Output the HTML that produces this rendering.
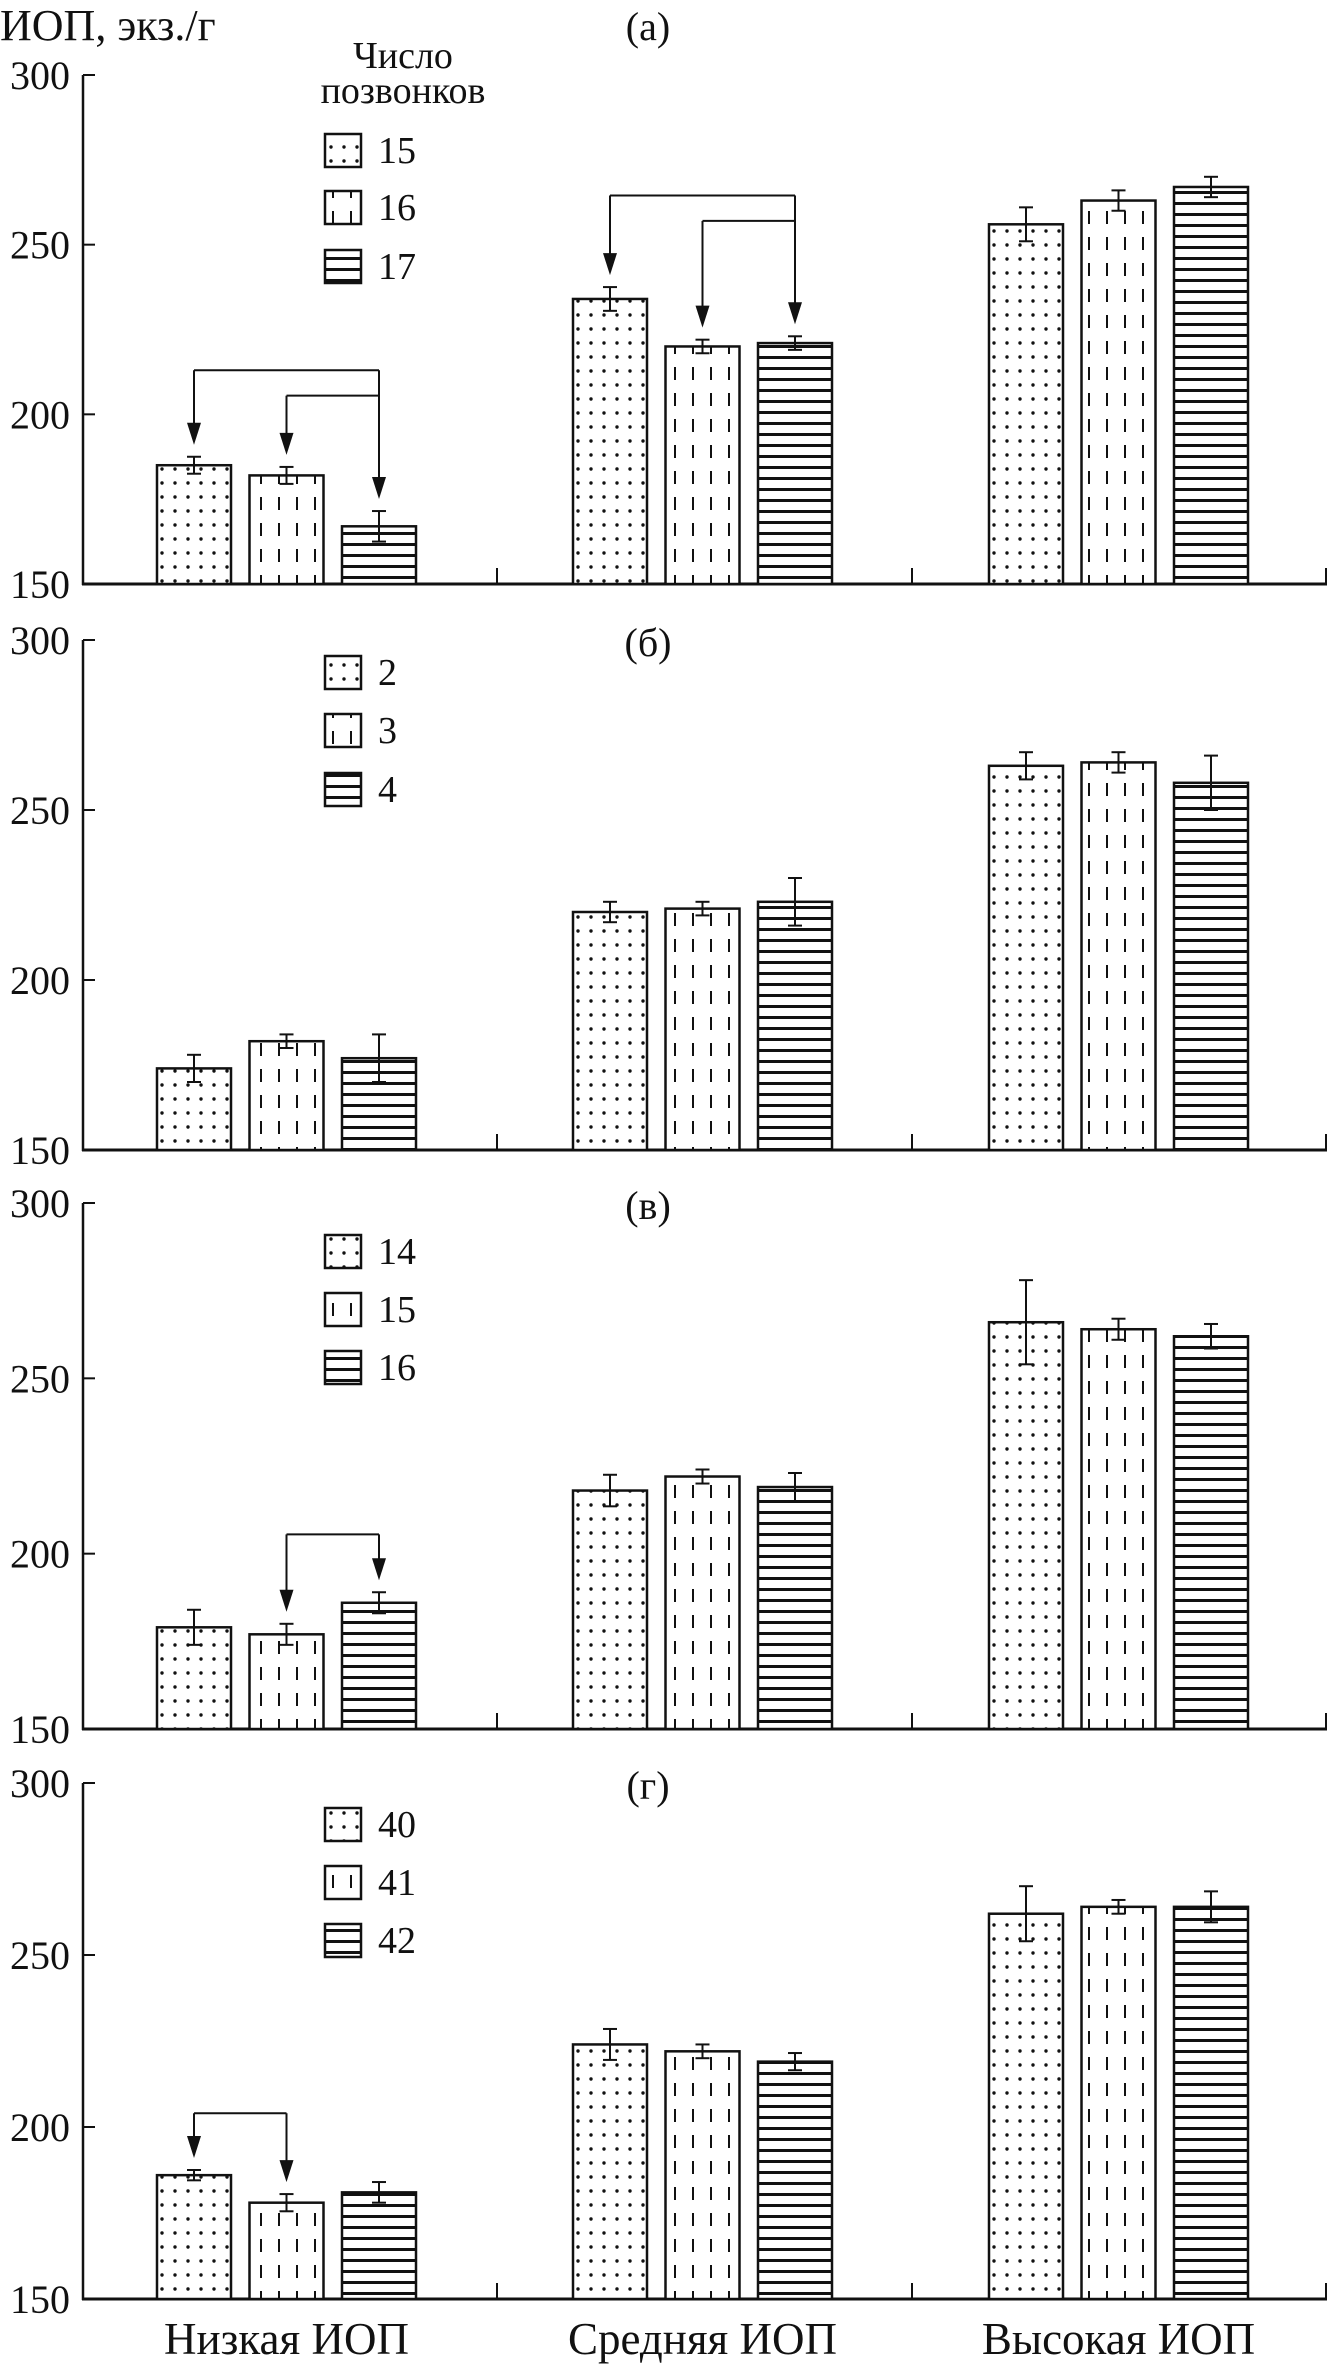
<!DOCTYPE html>
<html><head><meta charset="utf-8"><style>
body{margin:0;background:#fff}
svg text{font-family:"Liberation Serif","DejaVu Serif",serif;fill:#111}
</style></head><body>
<svg id="c" width="1331" height="2367" viewBox="0 0 1331 2367" xmlns="http://www.w3.org/2000/svg">
<defs>
<pattern id="p0" width="13" height="14" patternUnits="userSpaceOnUse"><rect width="13" height="14" fill="#fff"/><circle cx="6" cy="7" r="1.7" fill="#111"/></pattern>
<pattern id="p1" width="18" height="26" patternUnits="userSpaceOnUse"><rect width="18" height="26" fill="#fff"/><rect x="8" y="3" width="2" height="13" fill="#111"/></pattern>
<pattern id="p2" width="10" height="11" patternUnits="userSpaceOnUse"><rect width="10" height="11" fill="#fff"/><rect x="0" y="4" width="10" height="3" fill="#111"/></pattern>
</defs>
</svg>
<script>
const categories=["Низкая ИОП","Средняя ИОП","Высокая ИОП"];
const panelTitles=["(а)","(б)","(в)","(г)"];
const legendA=["15","16","17"];
const legendB=["2","3","4"];
const legendC=["14","15","16"];
const legendD=["40","41","42"];
const yTicks=[150,200,250,300];
const valuesA=[185,182,167,234,220,221,256,263,267];
const errorsA=[2.5,2.5,4.5,3.5,2,2,5,3,3];
const valuesB=[174,182,177,220,221,223,263,264,258];
const errorsB=[4,2,7,3,2,7,4,3,8];
const valuesC=[179,177,186,218,222,219,266,264,262];
const errorsC=[5,3,3,4.5,2,4,12,3,3.5];
const valuesD=[186,178,181,224,222,219,262,264,264];
const errorsD=[1.5,2.5,3,4.5,2,2.5,8,2,4.5];
const NS="http://www.w3.org/2000/svg";
const svg=document.getElementById('c');
function mk(t,a,p){const e=document.createElementNS(NS,t);for(const k in a)e.setAttribute(k,a[k]);(p||svg).appendChild(e);return e;}
const panels=[
 {top:75,base:584,vals:valuesA,errs:errorsA,leg:legendA,legOff:[75,132,191],
  brackets:[{from:2,to:[0,1],y:[213,205.5]}],extra:[{from:5,to:[3,4],y:[264.5,257]}]},
 {top:640,base:1150,vals:valuesB,errs:errorsB,leg:legendB,legOff:[32,90,149],brackets:[],extra:[]},
 {top:1203,base:1729,vals:valuesC,errs:errorsC,leg:legendC,legOff:[48,106,164],brackets:[{line:[1,2],y:205.5}],extra:[]},
 {top:1783,base:2299,vals:valuesD,errs:errorsD,leg:legendD,legOff:[41,99,157],brackets:[{line:[0,1],y:204}],extra:[]}
];
const BW=74;
function xBar(i){const g=Math.floor(i/3),s=i%3;return 157+g*416+s*92.5;}
function xc(i){return xBar(i)+BW/2;}
function arrow(x,y1,y2,g){
 mk('line',{x1:x,y1:y1,x2:x,y2:y2-18,stroke:'#111','stroke-width':2},g);
 mk('path',{d:`M${x-7},${y2-22} L${x+7},${y2-22} L${x},${y2} Z`,fill:'#111'},g);
}
panels.forEach((P,pi)=>{
 const y=v=>P.base-(v-150)/150*(P.base-P.top);
 const g=mk('g',{});
 
 
 const ax=mk('line',{x1:83,y1:P.top,x2:83,y2:P.base+1,stroke:'#111','stroke-width':2.5},g);
 
 
 const bx=mk('line',{x1:82,y1:P.base,x2:1327,y2:P.base,stroke:'#111','stroke-width':3},g);
 
 
 [497,912,1326].forEach(x=>mk('line',{x1:x,y1:P.base-16,x2:x,y2:P.base,stroke:'#111','stroke-width':2},g));
 yTicks.forEach(t=>{
  mk('line',{x1:83,y1:y(t),x2:95,y2:y(t),stroke:'#111','stroke-width':2},g);
  const tx=mk('text',{x:70,y:y(t)+14,'font-size':40,'text-anchor':'end'},g);tx.textContent=t;
  
  
 });
 const tt=mk('text',{x:648,y:pi==0?40:P.top+16,'font-size':40,'text-anchor':'middle'},g);
 tt.textContent=panelTitles[pi];
 
 
 P.vals.forEach((v,i)=>{
  const r=mk('rect',{x:xBar(i),y:y(v),width:BW,height:P.base-y(v),fill:'url(#p'+(i%3)+')',stroke:'#111','stroke-width':2.5},g);
  
  
  const e=P.errs[i],cx=xc(i);
  mk('line',{x1:cx,y1:y(v+e),x2:cx,y2:y(v-e),stroke:'#111','stroke-width':2},g);
  mk('line',{x1:cx-7,y1:y(v+e),x2:cx+7,y2:y(v+e),stroke:'#111','stroke-width':2},g);
  mk('line',{x1:cx-7,y1:y(v-e),x2:cx+7,y2:y(v-e),stroke:'#111','stroke-width':2},g);
 });
 const tipOf=i=>y(P.vals[i]+P.errs[i])-12;
 [...P.brackets,...P.extra].forEach(b=>{
  if(b.from!==undefined){
   const fx=xc(b.from);
   arrow(fx,y(b.y[0]),tipOf(b.from),g);
   b.to.forEach((t,k)=>{
    const tx=xc(t);
    mk('line',{x1:tx,y1:y(b.y[k]),x2:fx,y2:y(b.y[k]),stroke:'#111','stroke-width':2},g);
    arrow(tx,y(b.y[k]),tipOf(t),g);
   });
  } else {
   const a=xc(b.line[0]),c=xc(b.line[1]);
   mk('line',{x1:a,y1:y(b.y),x2:c,y2:y(b.y),stroke:'#111','stroke-width':2},g);
   arrow(a,y(b.y),tipOf(b.line[0]),g);
   arrow(c,y(b.y),tipOf(b.line[1]),g);
  }
 });
 P.leg.forEach((l,k)=>{
  const cy=P.top+P.legOff[k];
  const lr=mk('rect',{x:325,y:cy-16,width:36,height:33,fill:'url(#p'+k+')',stroke:'#111','stroke-width':2.5},g);
  
  
  const lt=mk('text',{x:378,y:cy+13,'font-size':38},g);lt.textContent=l;
  
  
 });
});
let t=mk('text',{x:0,y:40,'font-size':44});t.textContent="ИОП, экз./г";


t=mk('text',{x:403,y:68,'font-size':38,'text-anchor':'middle'});t.textContent="Число";


t=mk('text',{x:403,y:103,'font-size':38,'text-anchor':'middle'});t.textContent="позвонков";


categories.forEach((c,i)=>{
 const e=mk('text',{x:xc(i*3+1),y:2354,'font-size':45,'text-anchor':'middle'});e.textContent=c;
 
 
});
</script>
</body></html>
